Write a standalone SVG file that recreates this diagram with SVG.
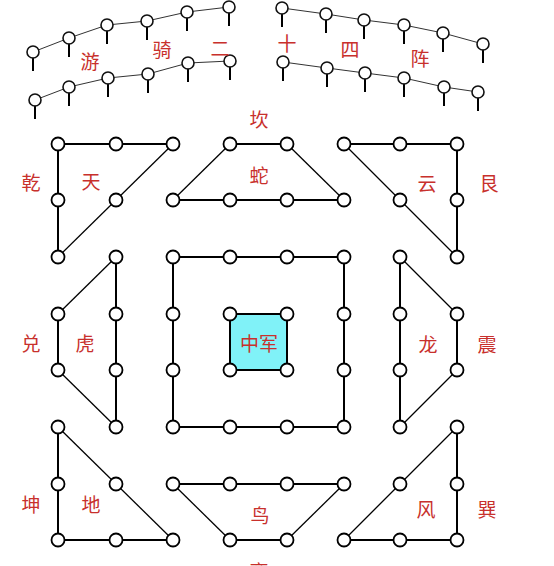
<svg xmlns="http://www.w3.org/2000/svg" width="554" height="566" viewBox="0 0 554 566">
<style>
.n{fill:#fff;stroke:#000;stroke-width:1.8}
.s{fill:#fff;stroke:#111;stroke-width:1.6}
.e{stroke:#000;stroke-width:2;fill:none}
.d{stroke:#000;stroke-width:1.3;fill:none}
.a{stroke:#333;stroke-width:1;fill:none}
.st{stroke:#000;stroke-width:2}
.t{font-family:"Noto Sans CJK SC","Noto Sans CJK TC",sans-serif;font-size:19px;fill:#c8302c;text-anchor:middle;dominant-baseline:central}
</style>
<rect width="554" height="566" fill="#fff"/>
<g id="connectors">
<polyline class="a" points="33,52 69,38 107,25 147,21 187,12 229,7"/>
<polyline class="a" points="35,100 69,87 108,78 148,74 188,63 230,61"/>
<polyline class="a" points="282,8 326,14 364,20 404,25 443,33 483,44"/>
<polyline class="a" points="283,62 327,68 365,73 404,78 444,87 478,92"/>
<g class="st">
<line x1="33" y1="52" x2="33" y2="71"/><line x1="69" y1="38" x2="69" y2="57"/><line x1="107" y1="25" x2="107" y2="44"/><line x1="147" y1="21" x2="147" y2="40"/><line x1="187" y1="12" x2="187" y2="31"/><line x1="229" y1="7" x2="229" y2="26"/>
<line x1="35" y1="100" x2="35" y2="119"/><line x1="69" y1="87" x2="69" y2="106"/><line x1="108" y1="78" x2="108" y2="97"/><line x1="148" y1="74" x2="148" y2="93"/><line x1="188" y1="63" x2="188" y2="82"/><line x1="230" y1="61" x2="230" y2="80"/>
<line x1="282" y1="8" x2="282" y2="27"/><line x1="326" y1="14" x2="326" y2="33"/><line x1="364" y1="20" x2="364" y2="39"/><line x1="404" y1="25" x2="404" y2="44"/><line x1="443" y1="33" x2="443" y2="52"/><line x1="483" y1="44" x2="483" y2="63"/>
<line x1="283" y1="62" x2="283" y2="81"/><line x1="327" y1="68" x2="327" y2="87"/><line x1="365" y1="73" x2="365" y2="92"/><line x1="404" y1="78" x2="404" y2="97"/><line x1="444" y1="87" x2="444" y2="106"/><line x1="478" y1="92" x2="478" y2="111"/>
</g>
<polyline class="e" points="173,144 58,144 58,257"/>
<line class="d" x1="173" y1="144" x2="58" y2="257"/>
<line class="e" x1="230" y1="144" x2="287" y2="144"/>
<line class="e" x1="173" y1="200" x2="344" y2="200"/>
<line class="d" x1="230" y1="144" x2="173" y2="200"/>
<line class="d" x1="287" y1="144" x2="344" y2="200"/>
<polyline class="e" points="344,144 457,144 457,257"/>
<line class="d" x1="344" y1="144" x2="457" y2="257"/>
<line class="e" x1="116" y1="257" x2="116" y2="427"/>
<line class="e" x1="58" y1="314" x2="58" y2="370"/>
<line class="d" x1="116" y1="257" x2="58" y2="314"/>
<line class="d" x1="58" y1="370" x2="116" y2="427"/>
<rect class="e" x="173" y="257" width="171" height="170"/>
<line class="e" x1="400" y1="257" x2="400" y2="427"/>
<line class="e" x1="457" y1="314" x2="457" y2="370"/>
<line class="d" x1="400" y1="257" x2="457" y2="314"/>
<line class="d" x1="457" y1="370" x2="400" y2="427"/>
<polyline class="e" points="58,427 58,540 173,540"/>
<line class="d" x1="58" y1="427" x2="173" y2="540"/>
<line class="e" x1="173" y1="484" x2="344" y2="484"/>
<line class="e" x1="230" y1="540" x2="287" y2="540"/>
<line class="d" x1="173" y1="484" x2="230" y2="540"/>
<line class="d" x1="344" y1="484" x2="287" y2="540"/>
<polyline class="e" points="457,427 457,540 344,540"/>
<line class="d" x1="457" y1="427" x2="344" y2="540"/>
</g>
<g id="youqi-arc">
<g class="s">
<circle cx="33" cy="52" r="6"/><circle cx="69" cy="38" r="6"/><circle cx="107" cy="25" r="6"/><circle cx="147" cy="21" r="6"/><circle cx="187" cy="12" r="6"/><circle cx="229" cy="7" r="6"/>
<circle cx="35" cy="100" r="6"/><circle cx="69" cy="87" r="6"/><circle cx="108" cy="78" r="6"/><circle cx="148" cy="74" r="6"/><circle cx="188" cy="63" r="6"/><circle cx="230" cy="61" r="6"/>
<circle cx="282" cy="8" r="6"/><circle cx="326" cy="14" r="6"/><circle cx="364" cy="20" r="6"/><circle cx="404" cy="25" r="6"/><circle cx="443" cy="33" r="6"/><circle cx="483" cy="44" r="6"/>
<circle cx="283" cy="62" r="6"/><circle cx="327" cy="68" r="6"/><circle cx="365" cy="73" r="6"/><circle cx="404" cy="78" r="6"/><circle cx="444" cy="87" r="6"/><circle cx="478" cy="92" r="6"/>
</g>
<text class="t" x="90" y="60">游</text><text class="t" x="162" y="48">骑</text><text class="t" x="220" y="47">二</text><text class="t" x="287" y="42">十</text><text class="t" x="350" y="48">四</text><text class="t" x="420" y="57">阵</text>
</g>
<g id="tian">
<g class="n"><circle cx="58" cy="144" r="6.5"/><circle cx="116" cy="144" r="6.5"/><circle cx="173" cy="144" r="6.5"/><circle cx="58" cy="200" r="6.5"/><circle cx="116" cy="200" r="6.5"/><circle cx="58" cy="257" r="6.5"/></g>
<text class="t" x="31" y="181">乾</text><text class="t" x="91" y="180">天</text>
</g>
<g id="she">
<g class="n"><circle cx="230" cy="144" r="6.5"/><circle cx="287" cy="144" r="6.5"/><circle cx="173" cy="200" r="6.5"/><circle cx="230" cy="200" r="6.5"/><circle cx="287" cy="200" r="6.5"/><circle cx="344" cy="200" r="6.5"/></g>
<text class="t" x="259" y="118">坎</text><text class="t" x="259" y="174">蛇</text>
</g>
<g id="yun">
<g class="n"><circle cx="344" cy="144" r="6.5"/><circle cx="400" cy="144" r="6.5"/><circle cx="457" cy="144" r="6.5"/><circle cx="400" cy="200" r="6.5"/><circle cx="457" cy="200" r="6.5"/><circle cx="457" cy="257" r="6.5"/></g>
<text class="t" x="427" y="182">云</text><text class="t" x="489" y="182">艮</text>
</g>
<g id="hu">
<g class="n"><circle cx="116" cy="257" r="6.5"/><circle cx="58" cy="314" r="6.5"/><circle cx="116" cy="314" r="6.5"/><circle cx="58" cy="370" r="6.5"/><circle cx="116" cy="370" r="6.5"/><circle cx="116" cy="427" r="6.5"/></g>
<text class="t" x="31" y="342">兑</text><text class="t" x="85" y="342">虎</text>
</g>
<g id="fangzhen">
<g class="n"><circle cx="173" cy="257" r="6.5"/><circle cx="230" cy="257" r="6.5"/><circle cx="287" cy="257" r="6.5"/><circle cx="344" cy="257" r="6.5"/><circle cx="173" cy="314" r="6.5"/><circle cx="344" cy="314" r="6.5"/><circle cx="173" cy="370" r="6.5"/><circle cx="344" cy="370" r="6.5"/><circle cx="173" cy="427" r="6.5"/><circle cx="230" cy="427" r="6.5"/><circle cx="287" cy="427" r="6.5"/><circle cx="344" cy="427" r="6.5"/></g>
</g>
<g id="zhongjun">
<rect x="230" y="314" width="57" height="56" fill="#80f2f8" stroke="#000" stroke-width="2"/>
<g class="n"><circle cx="230" cy="314" r="6.5"/><circle cx="287" cy="314" r="6.5"/><circle cx="230" cy="370" r="6.5"/><circle cx="287" cy="370" r="6.5"/></g>
<text class="t" x="259" y="342">中军</text>
</g>
<g id="long">
<g class="n"><circle cx="400" cy="257" r="6.5"/><circle cx="400" cy="314" r="6.5"/><circle cx="457" cy="314" r="6.5"/><circle cx="400" cy="370" r="6.5"/><circle cx="457" cy="370" r="6.5"/><circle cx="400" cy="427" r="6.5"/></g>
<text class="t" x="428" y="343">龙</text><text class="t" x="487" y="343">震</text>
</g>
<g id="di">
<g class="n"><circle cx="58" cy="427" r="6.5"/><circle cx="58" cy="484" r="6.5"/><circle cx="116" cy="484" r="6.5"/><circle cx="58" cy="540" r="6.5"/><circle cx="116" cy="540" r="6.5"/><circle cx="173" cy="540" r="6.5"/></g>
<text class="t" x="31" y="503">坤</text><text class="t" x="91" y="503">地</text>
</g>
<g id="niao">
<g class="n"><circle cx="173" cy="484" r="6.5"/><circle cx="230" cy="484" r="6.5"/><circle cx="287" cy="484" r="6.5"/><circle cx="344" cy="484" r="6.5"/><circle cx="230" cy="540" r="6.5"/><circle cx="287" cy="540" r="6.5"/></g>
<text class="t" x="260" y="514">鸟</text><text class="t" x="259" y="570">离</text>
</g>
<g id="feng">
<g class="n"><circle cx="457" cy="427" r="6.5"/><circle cx="400" cy="484" r="6.5"/><circle cx="457" cy="484" r="6.5"/><circle cx="344" cy="540" r="6.5"/><circle cx="400" cy="540" r="6.5"/><circle cx="457" cy="540" r="6.5"/></g>
<text class="t" x="426" y="508">风</text><text class="t" x="487" y="508">巽</text>
</g>
</svg>
